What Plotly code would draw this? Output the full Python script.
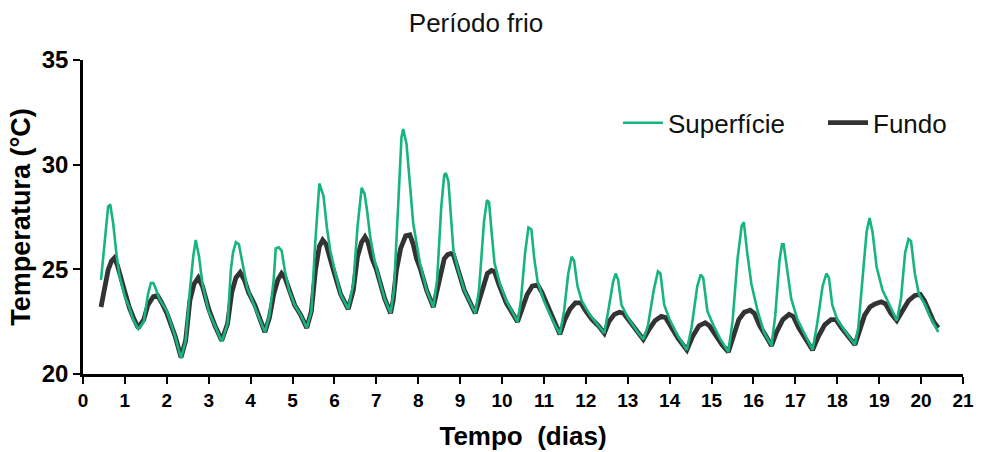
import plotly.graph_objects as go

# ---------------- data ----------------
sup_x = [0.43, 0.52, 0.60, 0.65, 0.72, 0.80, 0.87, 1.00, 1.10, 1.20, 1.32,
         1.45, 1.55, 1.62, 1.68, 1.75, 1.82, 2.00, 2.20, 2.34,
         2.45, 2.55, 2.63, 2.69, 2.77, 2.85, 3.00, 3.15, 3.31,
         3.45, 3.53, 3.58, 3.65, 3.72, 3.80, 3.92, 4.10, 4.22, 4.34,
         4.45, 4.55, 4.60, 4.67, 4.74, 4.82, 4.92, 5.05, 5.20, 5.34,
         5.45, 5.54, 5.64, 5.74, 5.82, 5.90, 6.00, 6.15, 6.33,
         6.45, 6.55, 6.65, 6.72, 6.78, 6.85, 6.95, 7.10, 7.20, 7.34,
         7.42, 7.52, 7.60, 7.64, 7.72, 7.80, 7.88, 8.04, 8.20, 8.36,
         8.45, 8.55, 8.62, 8.66, 8.72, 8.84, 8.95, 9.10, 9.36,
         9.45, 9.57, 9.64, 9.69, 9.75, 9.82, 9.95, 10.10, 10.37,
         10.45, 10.55, 10.63, 10.70, 10.77, 10.85, 11.00, 11.20, 11.38,
         11.48, 11.58, 11.66, 11.72, 11.80, 11.90, 12.10, 12.30, 12.44,
         12.55, 12.65, 12.71, 12.77, 12.85, 13.00, 13.20, 13.37,
         13.48, 13.62, 13.72, 13.78, 13.87, 14.00, 14.20, 14.41,
         14.52, 14.66, 14.74, 14.80, 14.90, 15.05, 15.20, 15.40,
         15.50, 15.62, 15.72, 15.77, 15.85, 15.95, 16.10, 16.25, 16.43,
         16.52, 16.62, 16.68, 16.72, 16.80, 16.90, 17.05, 17.20, 17.41,
         17.52, 17.65, 17.74, 17.80, 17.88, 18.00, 18.20, 18.42,
         18.50, 18.60, 18.70, 18.77, 18.84, 18.94, 19.08, 19.20, 19.42,
         19.52, 19.62, 19.70, 19.76, 19.85, 19.95, 20.10, 20.20, 20.41]
sup_y = [24.5, 26.3, 28.0, 28.1, 27.2, 25.7, 24.7, 23.7, 23.2, 22.6, 22.15,
         22.5, 23.8, 24.35, 24.35, 24.0, 23.6, 23.0, 21.8, 20.75,
         21.6, 24.0, 25.6, 26.4, 25.6, 24.3, 23.0, 22.3, 21.55,
         22.4, 25.0, 25.8, 26.3, 26.2, 25.3, 24.1, 23.2, 22.6, 22.0,
         22.8, 24.5, 26.0, 26.05, 25.9, 24.9, 24.0, 23.3, 22.8, 22.2,
         23.0, 26.2, 29.1, 28.5, 27.0, 25.9, 25.0, 23.8, 23.1,
         24.3, 27.0, 28.9, 28.6, 27.8, 26.6, 25.5, 24.3, 23.6, 22.9,
         24.0, 28.0, 31.3, 31.7, 31.0, 29.1, 27.2, 25.3, 24.0, 23.2,
         24.5, 28.0, 29.5, 29.6, 29.2, 25.9, 25.0, 24.0, 22.9,
         24.0, 27.3, 28.3, 28.2, 26.8, 25.3, 24.3, 23.5, 22.5,
         23.5, 25.8, 27.0, 26.9, 25.5, 24.4, 23.5, 22.6, 21.9,
         23.0, 24.8, 25.6, 25.4, 24.2, 23.5, 22.8, 22.3, 21.95,
         23.2, 24.4, 24.8, 24.5, 23.3, 22.7, 22.1, 21.65,
         22.3, 24.0, 24.9, 24.8, 23.3, 22.6, 21.8, 21.15,
         22.2, 24.2, 24.75, 24.6, 23.0, 22.3, 21.7, 21.05,
         22.5, 25.5, 27.1, 27.25, 25.8, 24.3, 23.0, 22.0, 21.35,
         22.8, 25.4, 26.2, 26.2, 25.0, 23.6, 22.6, 22.0, 21.15,
         22.4, 24.2, 24.8, 24.6, 23.3, 22.6, 22.0, 21.4,
         22.2, 24.6, 26.8, 27.45, 26.8, 25.1, 24.0, 23.5, 22.55,
         23.6, 25.8, 26.45, 26.35, 24.8, 23.8, 23.3, 22.8, 22.0]

fun_x = [0.43, 0.52, 0.60, 0.68, 0.75, 0.82, 0.90, 1.00, 1.10, 1.20, 1.32,
         1.45, 1.55, 1.68, 1.78, 1.88, 2.00, 2.20, 2.34,
         2.45, 2.55, 2.65, 2.75, 2.85, 3.00, 3.15, 3.31,
         3.45, 3.55, 3.65, 3.75, 3.85, 3.95, 4.10, 4.22, 4.34,
         4.45, 4.55, 4.65, 4.74, 4.82, 4.92, 5.05, 5.20, 5.34,
         5.45, 5.55, 5.64, 5.72, 5.80, 5.90, 6.00, 6.15, 6.33,
         6.45, 6.55, 6.65, 6.73, 6.80, 6.90, 7.00, 7.10, 7.20, 7.34,
         7.40, 7.48, 7.58, 7.70, 7.80, 7.88, 7.96, 8.04, 8.20, 8.36,
         8.45, 8.55, 8.62, 8.70, 8.78, 8.84, 8.95, 9.10, 9.36,
         9.45, 9.55, 9.65, 9.75, 9.82, 9.92, 10.10, 10.37,
         10.48, 10.60, 10.72, 10.85, 10.95, 11.10, 11.20, 11.38,
         11.50, 11.62, 11.75, 11.88, 12.00, 12.15, 12.30, 12.44,
         12.55, 12.68, 12.80, 12.90, 13.05, 13.20, 13.37,
         13.50, 13.65, 13.80, 13.90, 14.05, 14.20, 14.41,
         14.55, 14.70, 14.85, 14.95, 15.10, 15.25, 15.40,
         15.52, 15.65, 15.78, 15.92, 16.02, 16.15, 16.30, 16.43,
         16.55, 16.70, 16.85, 16.95, 17.08, 17.25, 17.41,
         17.55, 17.70, 17.85, 17.97, 18.10, 18.25, 18.42,
         18.52, 18.65, 18.78, 18.90, 19.05, 19.15, 19.28, 19.42,
         19.55, 19.70, 19.85, 19.98, 20.08, 20.20, 20.30, 20.41]
fun_y = [23.2, 24.2, 24.97, 25.4, 25.55, 25.2, 24.6, 23.8, 23.2, 22.7, 22.2,
         22.6, 23.3, 23.7, 23.75, 23.4, 22.9, 21.8, 20.8,
         21.6, 23.5, 24.3, 24.6, 24.2, 23.1, 22.3, 21.6,
         22.4, 23.9, 24.6, 24.85, 24.5, 23.9, 23.3, 22.6, 22.0,
         22.7, 23.8, 24.5, 24.8, 24.6, 24.0, 23.3, 22.8, 22.2,
         23.0, 25.0, 26.1, 26.4, 26.2, 25.4, 24.8, 23.8, 23.1,
         24.0, 25.6, 26.3, 26.55, 26.3, 25.5, 25.0, 24.3, 23.6, 22.9,
         23.5, 24.97, 26.0, 26.6, 26.65, 26.2, 25.5, 25.1, 24.0, 23.2,
         24.0, 25.0, 25.5, 25.7, 25.75, 25.7, 25.0, 24.0, 22.9,
         23.5, 24.3, 24.8, 24.95, 24.9, 24.3, 23.4, 22.5,
         23.1, 23.8, 24.2, 24.25, 23.9, 23.2, 22.6, 21.9,
         22.6, 23.1, 23.4, 23.4, 23.0, 22.6, 22.3, 21.95,
         22.5, 22.85, 22.95, 22.9, 22.5, 22.1, 21.65,
         22.1, 22.55, 22.75, 22.7, 22.2, 21.7, 21.15,
         21.8, 22.3, 22.45, 22.3, 21.8, 21.4, 21.05,
         21.8, 22.6, 22.95, 23.05, 22.9, 22.3, 21.8, 21.35,
         22.0, 22.6, 22.85, 22.75, 22.2, 21.6, 21.15,
         21.8, 22.35, 22.6, 22.6, 22.2, 21.8, 21.4,
         22.0, 22.8, 23.2, 23.35, 23.45, 23.35, 22.9, 22.55,
         23.0, 23.5, 23.75, 23.8, 23.5, 22.9, 22.5, 22.2]

x_ticks = list(range(0, 22))
y_ticks = [20, 25, 30, 35]

series_names = ["Superfície", "Fundo"]
title_text = "Período frio"
x_title = "Tempo\u00a0\u00a0(dias)"
y_title = "Temperatura (°C)"

GREEN = "#17B57B"
DARK = "#333333"
FONT = "Liberation Sans, Arial, sans-serif"

fig = go.Figure()
fig.add_trace(go.Scatter(x=fun_x, y=fun_y, mode="lines", name=series_names[1],
                         line=dict(color=DARK, width=4.8), legend="legend2"))
fig.add_trace(go.Scatter(x=sup_x, y=sup_y, mode="lines", name=series_names[0],
                         line=dict(color=GREEN, width=2.6), legend="legend"))

leg_common = dict(orientation="h", xanchor="left", y=0.80, yanchor="middle",
                  font=dict(size=26, color="#111111"), bgcolor="rgba(0,0,0,0)",
                  itemwidth=40)

fig.update_layout(
    width=981, height=452,
    margin=dict(l=83, r=18, t=60, b=78),
    paper_bgcolor="white", plot_bgcolor="white",
    font=dict(family=FONT, color="black"),
    title=dict(text=title_text, x=(476 - 83) / 880, xref="paper", xanchor="center",
               y=1 - 23 / 452, yref="container", yanchor="middle",
               font=dict(size=26, color="#111111")),
    showlegend=True,
    legend=dict(x=(618 - 83) / 880, **leg_common),
    legend2=dict(x=(823 - 83) / 880, **leg_common),
)
fig.update_xaxes(
    range=[0, 21], tickvals=x_ticks, ticktext=[str(t) for t in x_ticks],
    showgrid=False, zeroline=False, showline=True, linecolor="black", linewidth=2.5,
    ticks="outside", ticklen=7, tickwidth=2, tickcolor="black", automargin=False,
    tickfont=dict(size=19, family=FONT, weight="bold"),
    title=dict(text=x_title, font=dict(size=26, weight="bold"), standoff=18),
)
fig.update_yaxes(
    range=[20, 35], tickvals=y_ticks,
    showgrid=False, zeroline=False, showline=True, linecolor="black", linewidth=2.5,
    ticks="outside", ticklen=7, tickwidth=2, tickcolor="black", automargin=False,
    tickfont=dict(size=24, family=FONT, weight="bold"),
    title=dict(text=y_title, font=dict(size=27, weight="bold"), standoff=4),
)

fig.write_html("out.html")
